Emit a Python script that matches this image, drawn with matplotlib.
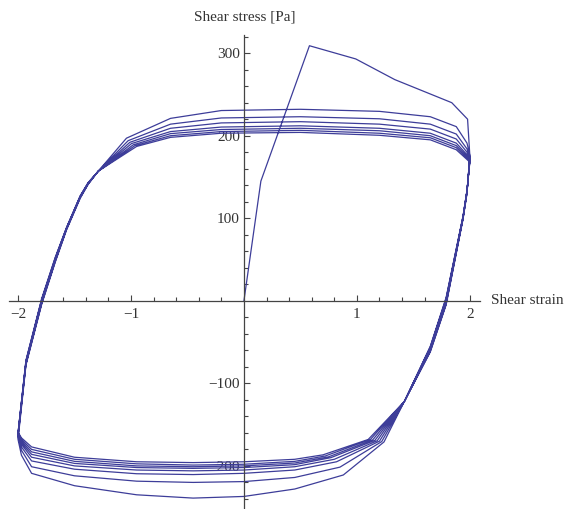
import numpy as np
import matplotlib
matplotlib.use("Agg")
from matplotlib import pyplot as plt
from matplotlib.ticker import FixedLocator

# first loading from rest
load_strain = [0.0, 0.15, 0.58, 0.99, 1.335, 1.84, 1.98, 2.0]
load_stress = [0, 145, 309, 293, 268, 240, 220, 176]

# descending branches (strain +2 -> -2), one row per cycle, ends at turning point
down_strain = [
    [1.975, 1.94, 1.79, 1.65, 1.42, 1.24, 0.88, 0.45, 0.0, -0.45, -0.95, -1.5, -1.88, -1.97, -2.0],
    [1.975, 1.94, 1.79, 1.65, 1.42, 1.22, 0.85, 0.45, 0.0, -0.45, -0.95, -1.5, -1.88, -1.97, -2.0],
    [1.975, 1.94, 1.79, 1.65, 1.42, 1.20, 0.82, 0.45, 0.0, -0.45, -0.95, -1.5, -1.88, -1.97, -2.0],
    [1.975, 1.94, 1.79, 1.65, 1.42, 1.18, 0.80, 0.45, 0.0, -0.45, -0.95, -1.5, -1.88, -1.97, -2.0],
    [1.975, 1.94, 1.79, 1.65, 1.42, 1.16, 0.77, 0.45, 0.0, -0.45, -0.95, -1.5, -1.88, -1.97, -2.0],
    [1.975, 1.94, 1.79, 1.65, 1.42, 1.14, 0.75, 0.45, 0.0, -0.45, -0.95, -1.5, -1.88, -1.97, -2.0],
    [1.975, 1.94, 1.79, 1.65, 1.42, 1.12, 0.72, 0.45, 0.0, -0.45, -0.95, -1.5, -1.88, -1.97, -2.0],
    [1.975, 1.94, 1.79, 1.65, 1.42, 1.10, 0.70, 0.45, 0.0, -0.45, -0.95, -1.5, -1.88, -1.97, -2.0],
]
down_stress = [
    [130, 99, -5, -62, -122, -171, -211, -228, -237, -239, -235, -224, -209, -187, -168],
    [131, 100, -4, -61, -122, -170.5, -201.5, -214, -219, -220, -218.5, -212, -201, -181, -165],
    [132, 100, -3, -60, -122, -170, -195, -205, -209, -210.5, -209.5, -204, -194, -177, -163],
    [132, 101, -1, -59, -122, -169.5, -192, -201, -205, -206, -205, -200, -189.5, -174, -162],
    [133, 101, 0, -58, -122, -169, -190, -198.5, -202, -203, -202, -197, -186, -172, -161],
    [133, 102, 1, -57, -122, -168.5, -189, -196.5, -200, -201, -200, -194.5, -183, -170, -160],
    [134, 102, 3, -56, -122, -168, -188, -194.5, -198, -199, -197.5, -192, -180, -168, -160],
    [134, 103, 4, -55, -122, -168, -186.6, -192, -195, -196, -195, -189.5, -177, -166, -159],
]

# ascending branches (strain -2 -> +2), one row per cycle, ends at turning point
up_strain = [
    [-1.93, -1.79, -1.67, -1.57, -1.45, -1.38, -1.29, -1.04, -0.65, -0.2, 0.5, 1.2, 1.65, 1.88, 1.975, 2.0],
    [-1.93, -1.79, -1.67, -1.57, -1.45, -1.38, -1.29, -1.025, -0.65, -0.2, 0.5, 1.2, 1.65, 1.88, 1.975, 2.0],
    [-1.93, -1.79, -1.67, -1.57, -1.45, -1.38, -1.29, -1.01, -0.65, -0.2, 0.5, 1.2, 1.65, 1.88, 1.975, 2.0],
    [-1.93, -1.79, -1.67, -1.57, -1.45, -1.38, -1.29, -0.995, -0.65, -0.2, 0.5, 1.2, 1.65, 1.88, 1.975, 2.0],
    [-1.93, -1.79, -1.67, -1.57, -1.45, -1.38, -1.29, -0.98, -0.65, -0.2, 0.5, 1.2, 1.65, 1.88, 1.975, 2.0],
    [-1.93, -1.79, -1.67, -1.57, -1.45, -1.38, -1.29, -0.965, -0.65, -0.2, 0.5, 1.2, 1.65, 1.88, 1.975, 2.0],
    [-1.93, -1.79, -1.67, -1.57, -1.45, -1.38, -1.29, -0.95, -0.65, -0.2, 0.5, 1.2, 1.65, 1.88, 1.975, 2.0],
]
up_stress = [
    [-78, -4, 47, 86, 124, 141, 157, 197, 221, 230.5, 232, 229.5, 223, 211, 191, 176],
    [-77, -3, 48, 87, 125, 141, 157, 194, 214, 221.5, 223, 220.5, 214, 202, 184, 174],
    [-76, -2, 49, 87, 125, 142, 157, 192, 209, 215.5, 217, 214, 208, 196, 180, 172],
    [-75, 0, 50, 88, 126, 142, 157, 190.5, 205, 210.5, 212, 209, 203, 191, 177, 171],
    [-74, 1, 51, 88, 126, 142, 157, 189, 202.5, 207.5, 209, 206, 200, 188, 175, 170],
    [-73, 2, 52, 89, 127, 143, 157, 188, 200, 205, 206.5, 203, 197.5, 185.5, 173, 169],
    [-72, 3, 53, 89, 127, 143, 157, 187, 198, 203, 204, 200.5, 195, 183, 171, 168],
]

x_ticks = [-2, -1, 1, 2]
y_ticks = [-200, -100, 100, 200, 300]

# stitch the loading and the alternating branches into one path
strain = list(load_strain)
stress = list(load_stress)
for k in range(len(down_strain)):
    strain += down_strain[k]
    stress += down_stress[k]
    if k < len(up_strain):
        strain += up_strain[k]
        stress += up_stress[k]

plt.rcParams['font.family'] = ['Liberation Serif', 'DejaVu Serif']
W, H = 566, 509
fig = plt.figure(figsize=(W / 100, H / 100), dpi=100)
ax = fig.add_axes([9 / W, 1 / H, 471 / W, 473 / H])
ax.plot(strain, stress, color='#3d3d99', lw=0.9)
ax.set_xlim(-2.08, 2.09)
ax.set_ylim(-251, 322)

# axes through the origin, Mathematica style
for s in ['top', 'right']:
    ax.spines[s].set_visible(False)
ax.spines['left'].set_position(('data', 0))
ax.spines['bottom'].set_position(('data', 0))
for s in ['left', 'bottom']:
    ax.spines[s].set_color('#444444')
    ax.spines[s].set_linewidth(0.9)

ax.xaxis.set_major_locator(FixedLocator(x_ticks))
ax.yaxis.set_major_locator(FixedLocator(y_ticks))
ax.xaxis.set_minor_locator(FixedLocator([v / 5 for v in range(-10, 11) if v % 5 != 0]))
ax.yaxis.set_minor_locator(FixedLocator([v * 20 for v in range(-12, 17) if v % 5 != 0]))
ax.tick_params(which='both', direction='in', color='#444444', width=0.8,
               labelsize=11, labelcolor='#333333')
ax.tick_params(which='major', length=4.5)
ax.tick_params(which='minor', length=2.6)
ax.tick_params(axis='x', pad=5)
ax.tick_params(axis='y', pad=3)

fig.text(244.5 / W, 1 - 17 / H, 'Shear stress [Pa]', ha='center', va='center',
         fontsize=11, color='#333333')
fig.text(491 / W, 1 - 300 / H, 'Shear strain', ha='left', va='center',
         fontsize=11, color='#333333')

fig.savefig('out.png', dpi=100)
